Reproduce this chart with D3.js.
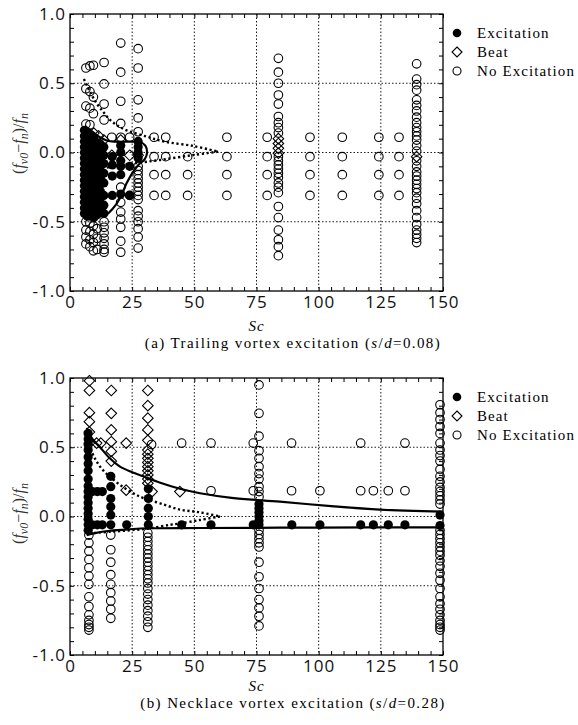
<!DOCTYPE html>
<html>
<head>
<meta charset="utf-8">
<script src="https://cdn.jsdelivr.net/npm/d3@7"></script>
<style>
  body { margin: 0; background: #fff; }
  svg { display: block; }
</style>
</head>
<body>
<svg id="chart" width="578" height="725"></svg>
<script>
// ---- data: [Sc, [values of (fv0-fn)/fn]] ----
const scTicks = [0, 25, 50, 75, 100, 125, 150]
const yTicks = [-1.0, -0.5, 0.0, 0.5, 1.0]
const legendItems = ['Excitation', 'Beat', 'No Excitation']

// (a) trailing vortex, s/d = 0.08
const excitationA = [
  [5.8, [0.16, 0.12, 0.08, 0.04, 0.0, -0.04, -0.08, -0.12, -0.16, -0.2, -0.24, -0.28, -0.32, -0.36, -0.4, -0.44]],
  [7.0, [0.14, 0.1, 0.06, 0.02, -0.02, -0.06, -0.1, -0.14, -0.18, -0.22, -0.26, -0.3, -0.34, -0.38, -0.42, -0.46]],
  [8.3, [0.12, 0.08, 0.04, 0.0, -0.04, -0.08, -0.12, -0.16, -0.2, -0.24, -0.28, -0.32, -0.36, -0.4, -0.44]],
  [9.6, [0.1, 0.05, -0.02, -0.06, -0.1, -0.15, -0.19, -0.23, -0.27, -0.31, -0.35, -0.39, -0.43, -0.47]],
  [10.9, [0.07, 0.02, -0.03, -0.08, -0.13, -0.17, -0.21, -0.26, -0.31, -0.36, -0.41, -0.45]],
  [12.2, [0.06, 0.0, -0.05, -0.1, -0.15, -0.19, -0.23, -0.28, -0.33, -0.38, -0.43]],
  [13.6, [0.04, -0.02, -0.08, -0.15, -0.22, -0.31, -0.38, -0.44]],
  [17.0, [-0.03, -0.09, -0.17, -0.31]],
  [20.4, [0.05, 0.0, -0.06, -0.1, -0.16, -0.3]],
  [24.0, [-0.1, -0.31]],
  [27.4, [0.08, 0.04, 0.0, -0.04]]
]
const beatA = [
  [9.6, [0.14]], [11.5, [0.12]], [13.6, [0.09]], [16.8, [-0.02]], [20.4, [0.09]],
  [24.0, [-0.02]], [27.4, [-0.02]], [83.8, [0.1, 0.065, 0.03, -0.005]], [139.4, [-0.03]]
]
const noExcitationA = [
  [6.4, [0.61, 0.46, 0.335, 0.205, -0.5, -0.56, -0.61, -0.66]],
  [8.0, [0.625, 0.44, 0.32, 0.2, -0.51, -0.57, -0.63, -0.68]],
  [9.4, [0.63, 0.4, 0.28, -0.53, -0.59, -0.65, -0.71]],
  [10.9, [-0.55, -0.62, -0.7]],
  [13.7, [0.65, 0.495, 0.35, 0.235, -0.5, -0.54, -0.58, -0.62, -0.66, -0.7, -0.72]],
  [16.8, [0.11]],
  [20.4, [0.79, 0.58, 0.37, 0.21, 0.11, -0.25, -0.36, -0.43, -0.48, -0.54, -0.64, -0.72]],
  [24.0, [0.11, -0.31]],
  [27.4, [0.75, 0.61, 0.38, 0.25, 0.15, -0.1, -0.13, -0.16, -0.19, -0.22, -0.25, -0.28, -0.31, -0.34, -0.42, -0.46, -0.5, -0.55, -0.61, -0.69]],
  [33.8, [0.11, -0.03, -0.16, -0.31]],
  [38.5, [0.11, -0.03, -0.16, -0.31]],
  [47.3, [-0.03, -0.16, -0.31]],
  [63.1, [0.11, -0.03, -0.16, -0.31]],
  [79.3, [0.11, -0.03, -0.16, -0.31]],
  [83.8, [0.68, 0.58, 0.5, 0.415, 0.35, 0.26, 0.215, 0.18, 0.14, -0.03, -0.06, -0.09, -0.12, -0.15, -0.18, -0.22, -0.25, -0.29, -0.39, -0.47, -0.56, -0.63, -0.68, -0.745]],
  [96.5, [0.11, -0.03, -0.16, -0.31]],
  [109.5, [0.11, -0.03, -0.16, -0.31]],
  [124.2, [0.11, -0.03, -0.16, -0.31]],
  [132.3, [0.11, -0.03, -0.16, -0.31]],
  [139.4, [0.64, 0.53, 0.49, 0.45, 0.38, 0.34, 0.3, 0.255, 0.215, 0.18, 0.15, 0.12, 0.09, 0.05, 0.01, -0.06, -0.1, -0.14, -0.17, -0.2, -0.23, -0.26, -0.29, -0.33, -0.37, -0.42, -0.47, -0.52, -0.56, -0.59, -0.62, -0.65]]
]
const solidA = [[6.0, 0.19], [9, 0.15], [12, 0.11], [15, 0.085], [18, 0.078], [24, 0.078], [28, 0.076], [30.3, 0.05], [31.0, 0.0], [30.0, -0.05], [27.5, -0.09], [25, -0.15], [22.8, -0.22], [20.1, -0.33], [17, -0.41], [14.5, -0.45], [12.5, -0.46]]
const dottedUpperA = [[5.6, 0.53], [8, 0.44], [10.7, 0.355], [13.5, 0.29], [16.1, 0.235], [19.5, 0.19], [22.8, 0.16], [30.8, 0.115], [37.5, 0.08], [49.6, 0.047], [59.6, 0.006]]
const dottedLowerA = [[59.6, 0.006], [49.6, -0.018], [36.2, -0.054], [25, -0.08], [17.4, -0.1], [12, -0.12]]

// (b) necklace vortex, s/d = 0.28
const excitationB = [
  [7.3, [0.6, 0.56, 0.52, 0.48, 0.43, 0.38, 0.33, 0.27, 0.22, 0.18, 0.14, 0.1, 0.06, 0.02, -0.02, -0.06, -0.1]],
  [9.0, [0.18, -0.06]], [11.0, [0.18, -0.06]], [13.0, [0.18, -0.06]],
  [16.4, [0.29, 0.215, 0.13, 0.07, 0.01, -0.06]],
  [22.8, [-0.06]],
  [31.5, [0.2, 0.13, 0.06, 0.0, -0.06]],
  [44.9, [-0.06]], [56.7, [-0.06]], [73.7, [-0.06]],
  [76.0, [0.09, 0.06, 0.03, 0.0, -0.03, -0.06]],
  [89.2, [-0.06]], [100.5, [-0.06]], [116.9, [-0.06]], [122.0, [-0.06]], [128.0, [-0.06]], [134.7, [-0.06]],
  [148.8, [0.01, -0.065]]
]
const beatB = [
  [7.8, [0.98, 0.91, 0.75, 0.685, 0.61, 0.53]],
  [10.7, [0.53]], [12.4, [0.53]],
  [16.6, [0.91, 0.745, 0.625, 0.54, 0.47, 0.4]],
  [22.6, [0.53, 0.19]],
  [31.3, [0.91, 0.8, 0.71, 0.625, 0.55, 0.48, 0.45, 0.42, 0.39, 0.36, 0.33, 0.3, 0.27, 0.24]],
  [33.0, [0.18]], [44.2, [0.18]]
]
const noExcitationB = [
  [7.6, [-0.134, -0.19, -0.25, -0.31, -0.37, -0.43, -0.49, -0.58, -0.65, -0.71, -0.75, -0.78, -0.8, -0.82]],
  [16.4, [-0.134, -0.24, -0.33, -0.42, -0.49, -0.55, -0.61, -0.67, -0.735]],
  [31.3, [-0.12, -0.15, -0.18, -0.21, -0.24, -0.27, -0.3, -0.33, -0.36, -0.39, -0.42, -0.45, -0.48, -0.52, -0.56, -0.6, -0.64, -0.68, -0.72, -0.76, -0.8]],
  [32.8, [0.52]], [44.9, [0.53]],
  [56.7, [0.53, 0.186]], [73.7, [0.53, 0.186]],
  [76.0, [0.95, 0.745, 0.58, 0.475, 0.42, 0.36, 0.31, 0.27, 0.215, 0.18, 0.143, -0.1, -0.13, -0.16, -0.19, -0.22, -0.33, -0.435, -0.52, -0.6, -0.66, -0.72, -0.79]],
  [89.1, [0.53, 0.186]], [100.5, [0.186]], [116.9, [0.53, 0.186]],
  [122.0, [0.186]], [128.0, [0.186]], [134.7, [0.53, 0.186]],
  [148.8, [0.807, 0.75, 0.7, 0.65, 0.6, 0.53, 0.48, 0.44, 0.4, 0.34, 0.29, 0.25, 0.21, 0.18, 0.15, 0.12, 0.09, -0.1, -0.13, -0.16, -0.19, -0.22, -0.25, -0.28, -0.32, -0.36, -0.41, -0.46, -0.52, -0.58, -0.63, -0.67, -0.71, -0.75, -0.78, -0.8, -0.82]]
]
const solidUpperB = [[6.7, 0.64], [9, 0.56], [12.1, 0.5], [16, 0.42], [20.1, 0.36], [25, 0.32], [29.5, 0.29], [36, 0.245], [44.2, 0.2], [52.3, 0.168], [65, 0.135], [84.4, 0.107], [105, 0.075], [124.6, 0.05], [150, 0.035]]
const solidLowerB = [[6.7, -0.135], [10, -0.12], [16.1, -0.103], [24, -0.092], [32.2, -0.085], [52.3, -0.083], [100, -0.08], [150, -0.078]]
const dottedUpperB = [[7.5, 0.52], [10, 0.42], [13, 0.34], [16.1, 0.287], [20, 0.23], [25.5, 0.167], [30, 0.13], [36.2, 0.095], [44.2, 0.05], [52.3, 0.03], [60.3, 0.0]]
const dottedLowerB = [[60.3, 0.0], [52.3, -0.025], [44.2, -0.05], [40.2, -0.06], [32.2, -0.085], [24, -0.1], [16.1, -0.11], [9, -0.12]]

// ---- drawing ----
const svg = d3.select('#chart')
const left = 70, right = 443
const x = d3.scaleLinear().domain([0, 150]).range([left, right])

// scLabelDy / captionDy: baseline offsets below the plot frame (the lower panel sits tighter)
const panels = [
  {top: 14, bottom: 291, scLabelDy: 40, captionDy: 57, yLabelShift: -9,
    caption: ['(a) Trailing vortex excitation (', '=0.08)'],
    exc: excitationA, beat: beatA, none: noExcitationA,
    solid: [solidA], dotted: [dottedUpperA, dottedLowerA]},
  {top: 378, bottom: 655, scLabelDy: 36, captionDy: 53, yLabelShift: -3,
    caption: ['(b) Necklace vortex excitation (', '=0.28)'],
    exc: excitationB, beat: beatB, none: noExcitationB,
    solid: [solidUpperB, solidLowerB], dotted: [dottedUpperB, dottedLowerB]}
]

const flat = (cols) => cols.flatMap(([sc, vs]) => vs.map((v) => [sc, v]))
const diamond = (cx, cy, r) => `M${cx},${cy - r}L${cx + r},${cy}L${cx},${cy + r}L${cx - r},${cy}Z`

panels.forEach((p) => {
  const y = d3.scaleLinear().domain([-1, 1]).range([p.bottom, p.top])
  const g = svg.append('g')

  // grid
  g.selectAll('line.vgrid').data(scTicks.slice(1, -1)).join('line')
    .attr('x1', (d) => x(d)).attr('x2', (d) => x(d))
    .attr('y1', p.top).attr('y2', p.bottom)
    .attr('stroke', '#000').attr('stroke-width', 0.9).attr('stroke-dasharray', '1.5,2')
  g.selectAll('line.hgrid').data(yTicks.slice(1, -1)).join('line')
    .attr('y1', (d) => y(d)).attr('y2', (d) => y(d))
    .attr('x1', left).attr('x2', right)
    .attr('stroke', '#000').attr('stroke-width', 0.9).attr('stroke-dasharray', '1.5,2')

  // axes, minor ticks inward
  const xMinor = d3.range(0, 151, 5)
  const yMinor = d3.range(-10, 11).map((i) => i / 10)
  const fmtX = (d) => (d % 25 === 0 ? d : '')
  const fmtY = (d) => (Math.abs(d * 2 - Math.round(d * 2)) < 1e-9 ? d.toFixed(1) : '')

  const axB = g.append('g').attr('transform', `translate(0,${p.bottom})`)
    .call(d3.axisBottom(x).tickValues(xMinor).tickSize(-4).tickPadding(5).tickFormat(fmtX))
  const axT = g.append('g').attr('transform', `translate(0,${p.top})`)
    .call(d3.axisTop(x).tickValues(xMinor).tickSize(-4).tickFormat(''))
  const axL = g.append('g').attr('transform', `translate(${left},0)`)
    .call(d3.axisLeft(y).tickValues(yMinor).tickSize(-4).tickPadding(4).tickFormat(fmtY))
  const axR = g.append('g').attr('transform', `translate(${right},0)`)
    .call(d3.axisRight(y).tickValues(yMinor).tickSize(-4).tickFormat(''))
  ;[axB, axT, axL, axR].forEach((a) => {
    a.select('.domain').remove()
    a.selectAll('line').attr('stroke', '#000').attr('stroke-width', 1)
    a.selectAll('text').attr('font-family', '"Open Sans", sans-serif').attr('font-size', 17)
      .attr('letter-spacing', 1).attr('fill', '#111')
  })

  g.append('rect').attr('x', left).attr('y', p.top)
    .attr('width', right - left).attr('height', p.bottom - p.top)
    .attr('fill', 'none').attr('stroke', '#000').attr('stroke-width', 1.3)

  // curves
  const line = d3.line().x((d) => x(d[0])).y((d) => y(d[1])).curve(d3.curveCatmullRom.alpha(0.5))
  p.solid.forEach((c) => g.append('path').attr('d', line(c))
    .attr('fill', 'none').attr('stroke', '#000').attr('stroke-width', 2.2))
  p.dotted.forEach((c) => g.append('path').attr('d', line(c))
    .attr('fill', 'none').attr('stroke', '#000').attr('stroke-width', 2.4).attr('stroke-dasharray', '2.2,2.6'))

  // markers
  g.selectAll('circle.none').data(flat(p.none)).join('circle')
    .attr('cx', (d) => x(d[0])).attr('cy', (d) => y(d[1])).attr('r', 4.3)
    .attr('fill', 'none').attr('stroke', '#000').attr('stroke-width', 1.1)
  g.selectAll('path.beat').data(flat(p.beat)).join('path')
    .attr('d', (d) => diamond(x(d[0]), y(d[1]), 5.3))
    .attr('fill', 'none').attr('stroke', '#000').attr('stroke-width', 1.1)
  g.selectAll('circle.exc').data(flat(p.exc)).join('circle')
    .attr('cx', (d) => x(d[0])).attr('cy', (d) => y(d[1])).attr('r', 4.6)
    .attr('fill', '#000')

  // labels
  g.append('text').attr('x', (left + right) / 2).attr('y', p.bottom + p.scLabelDy)
    .attr('text-anchor', 'middle').attr('font-family', '"Liberation Serif", serif')
    .attr('font-style', 'italic').attr('font-size', 15).attr('letter-spacing', 1).text('Sc')

  const cap = g.append('text').attr('x', 293).attr('y', p.bottom + p.captionDy)
    .attr('text-anchor', 'middle').attr('font-family', '"Liberation Serif", serif')
    .attr('font-size', 15).attr('letter-spacing', 1.4)
  cap.append('tspan').text(p.caption[0])
  cap.append('tspan').attr('font-style', 'italic').text('s')
  cap.append('tspan').text('/')
  cap.append('tspan').attr('font-style', 'italic').text('d')
  cap.append('tspan').text(p.caption[1])

  const cy = (p.top + p.bottom) / 2 + p.yLabelShift
  const yl = g.append('text').attr('transform', `translate(24,${cy}) rotate(-90)`)
    .attr('text-anchor', 'middle').attr('font-family', '"Liberation Serif", serif')
    .attr('font-size', 16).attr('fill', '#333')
  const parts = [['(', 0, false], ['f', 0, true], ['v0', 4, true], ['−', -4, false], ['f', 0, true],
    ['n', 4, true], [')/', -4, false], ['f', 0, true], ['n', 4, true]]
  parts.forEach(([t, dy, it]) => {
    yl.append('tspan').attr('dy', dy).attr('font-style', it ? 'italic' : 'normal')
      .attr('font-size', dy > 0 ? 12 : 16).text(t)
  })

  // legend
  const lg = g.append('g').attr('transform', `translate(457,${p.top + 19})`)
  legendItems.forEach((t, i) => {
    const ly = i * 19
    if (i === 0) lg.append('circle').attr('cx', 0).attr('cy', ly).attr('r', 4.3).attr('fill', '#000')
    if (i === 1) lg.append('path').attr('d', diamond(0, ly, 5)).attr('fill', 'none').attr('stroke', '#000').attr('stroke-width', 1.1)
    if (i === 2) lg.append('circle').attr('cx', 0).attr('cy', ly).attr('r', 4).attr('fill', 'none').attr('stroke', '#000').attr('stroke-width', 1.1)
    lg.append('text').attr('x', 20).attr('y', ly + 5)
      .attr('font-family', '"Liberation Serif", serif').attr('font-size', 15)
      .attr('letter-spacing', 1.1).text(t)
  })
})
</script>
</body>
</html>
